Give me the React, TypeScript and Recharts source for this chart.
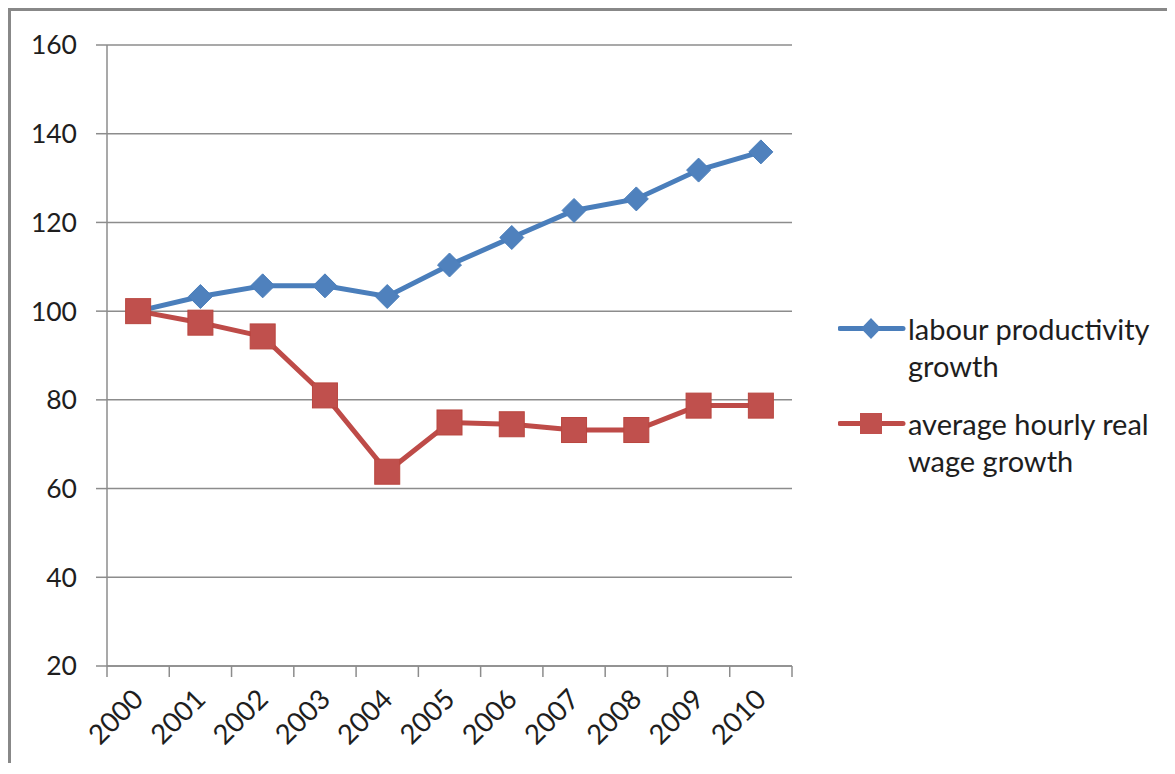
import React from "react";
import { LineChart, Line, XAxis, YAxis, CartesianGrid, Legend } from "recharts";

const years = ["2000", "2001", "2002", "2003", "2004", "2005", "2006", "2007", "2008", "2009", "2010"];
const productivity = [100, 103.3, 105.7, 105.7, 103.3, 110.4, 116.6, 122.7, 125.3, 131.8, 135.9];
const realWage = [100, 97.4, 94.3, 81.0, 63.8, 74.9, 74.5, 73.2, 73.2, 78.7, 78.7];
const yTicks = [20, 40, 60, 80, 100, 120, 140, 160];

const seriesNames = ["labour productivity growth", "average hourly real wage growth"];

const data = years.map((y, i) => ({ year: y, productivity: productivity[i], realWage: realWage[i] }));

const W = 1156;
const H = 752;
const MARGIN = { top: 34, right: 375, bottom: 0, left: 0 };
const Y_W = 96;
const BAND = (W - MARGIN.right - Y_W) / years.length;

const GRID = "#8c8c8c";
const TEXT = "#1e1e1e";
const FONT = "Lato, 'Open Sans', sans-serif";
const BLUE = "#4a7ebb";
const BLUE_FILL = "#4f81bd";
const RED = "#be4b48";
const RED_FILL = "#c0504d";

const Diamond = ({ cx, cy }: any) => {
    if (cx == null || cy == null) return null;
    const r = 12;
    return <path d={`M${cx},${cy - r}L${cx + r},${cy}L${cx},${cy + r}L${cx - r},${cy}Z`} fill={BLUE_FILL} stroke={BLUE} strokeWidth={1} />;
};

const Square = ({ cx, cy }: any) => {
    if (cx == null || cy == null) return null;
    const s = 12.5;
    return <rect x={cx - s} y={cy - s} width={s * 2} height={s * 2} fill={RED_FILL} stroke="#b9463f" strokeWidth={1} />;
};

const YearTick = (props: any) => {
    const { x, y, payload } = props;
    const idx = years.indexOf(payload.value);
    const half = BAND / 2;
    const ax = x + 7;
    const ay = y + 35;
    return (
        <g>
            <line x1={x - half} y1={y} x2={x - half} y2={y + 11} stroke={GRID} strokeWidth={1.5} />
            {idx === years.length - 1 && (
                <line x1={x + half} y1={y} x2={x + half} y2={y + 11} stroke={GRID} strokeWidth={1.5} />
            )}
            <text x={ax} y={ay} transform={`rotate(-45 ${ax} ${ay})`} textAnchor="end" fill={TEXT} fontSize={27.5} fontFamily={FONT}>
                {payload.value}
            </text>
        </g>
    );
};

const LegendBox = () => (
    <div style={{ fontFamily: FONT, fontSize: 29, color: TEXT }}>
        {seriesNames.map((name, i) => (
            <div key={name} style={{ display: "flex", alignItems: "flex-start", marginBottom: 21 }}>
                <svg width={70} height={37} style={{ flex: "none" }}>
                    <line x1={2} y1={18.5} x2={65} y2={18.5} stroke={i === 0 ? BLUE : RED} strokeWidth={5} strokeLinecap="round" />
                    {i === 0 ? (
                        <path d="M33,8L43,18.5L33,29L23,18.5Z" fill={BLUE_FILL} />
                    ) : (
                        <rect x={22} y={8} width={22} height={21} fill={RED_FILL} />
                    )}
                </svg>
                <div style={{ lineHeight: "37px", width: 262 }}>{name}</div>
            </div>
        ))}
    </div>
);

export default function App() {
    return (
        <div style={{ borderTop: "3px solid #888", borderLeft: "3px solid #888", width: W, height: H }}>
            <LineChart width={W} height={H} data={data} margin={MARGIN}>
                <CartesianGrid vertical={false} stroke={GRID} strokeWidth={1.5} />
                <XAxis
                    dataKey="year"
                    padding={{ left: BAND / 2, right: BAND / 2 }}
                    height={H - 655}
                    axisLine={{ stroke: GRID, strokeWidth: 1.5 }}
                    tickLine={false}
                    tickSize={0}
                    tickMargin={0}
                    interval={0}
                    tick={<YearTick />}
                />
                <YAxis
                    width={Y_W}
                    domain={[20, 160]}
                    ticks={yTicks}
                    interval={0}
                    axisLine={{ stroke: GRID, strokeWidth: 1.5 }}
                    tickLine={{ stroke: GRID, strokeWidth: 1.5 }}
                    tickSize={11}
                    tickMargin={19}
                    tick={{ fill: TEXT, fontSize: 26.5, fontFamily: FONT }}
                />
                <Legend
                    layout="vertical"
                    align="center"
                    verticalAlign="middle"
                    content={<LegendBox />}
                    wrapperStyle={{ left: 827, top: 298.5, width: 340 }}
                />
                <Line
                    type="linear"
                    dataKey="productivity"
                    name={seriesNames[0]}
                    stroke={BLUE}
                    strokeWidth={5}
                    dot={<Diamond />}
                    activeDot={false}
                    isAnimationActive={false}
                />
                <Line
                    type="linear"
                    dataKey="realWage"
                    name={seriesNames[1]}
                    stroke={RED}
                    strokeWidth={5}
                    dot={<Square />}
                    activeDot={false}
                    isAnimationActive={false}
                />
            </LineChart>
        </div>
    );
}
